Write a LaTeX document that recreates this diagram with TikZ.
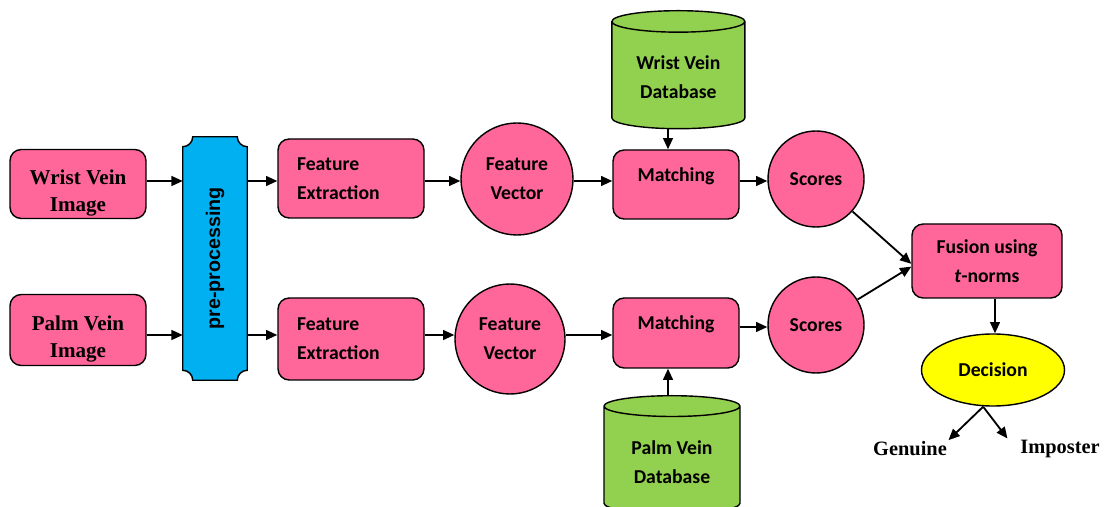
\documentclass[tikz,border=0pt]{standalone}
\usepackage{fontspec}
\setmainfont{Liberation Serif}
\newfontfamily\calibri{Carlito}
\newfontfamily\arial{Liberation Sans}
\definecolor{boxpink}{RGB}{255,102,153}
\definecolor{preblue}{RGB}{0,176,240}
\definecolor{dbgreen}{RGB}{146,208,80}
\definecolor{decyellow}{RGB}{255,255,0}
\usetikzlibrary{shapes.geometric, arrows.meta, positioning, calc, backgrounds}

\begin{document}
\begin{tikzpicture}[
    box/.style={draw, line width=1pt, rounded corners=8pt, fill=boxpink, align=center,
        font=\calibri\bfseries\fontsize{14}{20.5}\selectfont},
    imgbox/.style={box, font=\bfseries\fontsize{15}{19.5}\selectfont, text height=1.5cm, inner ysep=1pt},
    disk/.style={circle, draw, line width=1pt, fill=boxpink, align=center, inner sep=0pt,
        font=\calibri\bfseries\fontsize{14}{20.5}\selectfont},
    db/.style={cylinder, shape border rotate=90, aspect=0.23, draw, line width=1pt,
        fill=dbgreen, align=center, anchor=north, font=\calibri\bfseries\fontsize{14}{20.5}\selectfont},
    outcome/.style={font=\bfseries\fontsize{14.5}{16}\selectfont, inner sep=1pt},
    arr/.style={-{Triangle[length=8pt,width=7pt]}, line width=1.3pt}
]
    \useasboundingbox (0,0) rectangle (27.6,12.675);

    % inputs
    \node[imgbox, minimum width=3.4cm, minimum height=1.725cm] (wimg) at (1.95,8.075) {Wrist Vein\\Image};
    \node[imgbox, minimum width=3.4cm, minimum height=1.775cm] (pimg) at (1.95,4.425) {Palm Vein\\Image};

    % pre-processing plaque
    \node[minimum width=1.6cm, minimum height=6.075cm, inner sep=0pt] (pre) at (5.375,6.2125) {};
    \node[rotate=90, font=\arial\bfseries\fontsize{14}{16}\selectfont] (pretxt) at (pre) {pre-processing};
    \begin{scope}[on background layer]
        \def\r{0.25}
        \draw[line width=1pt, fill=preblue]
            ($(pre.north west)+(\r,0)$) -- ($(pre.north east)+(-\r,0)$)
            arc[start angle=180, end angle=270, radius=\r] -- ($(pre.south east)+(0,\r)$)
            arc[start angle=90, end angle=180, radius=\r] -- ($(pre.south west)+(\r,0)$)
            arc[start angle=0, end angle=90, radius=\r] -- ($(pre.north west)+(0,-\r)$)
            arc[start angle=270, end angle=360, radius=\r] -- cycle;
    \end{scope}

    % wrist branch
    \node[box, minimum width=3.65cm, minimum height=1.975cm, align=left, text width=2.7cm] (fe1) at (8.775,8.2125) {Feature\\Extraction};
    \node[disk, minimum size=2.8cm] (fv1) at (12.925,8.2) {Feature\\Vector};
    \node[box, minimum width=3.15cm, minimum height=1.725cm, text depth=0.5cm] (m1) at (16.9,8.0625) {Matching};
    \node[db, minimum width=3.325cm, minimum height=2.95cm] (wdb) at (16.96,12.425) {Wrist Vein\\Database};
    \node[disk, minimum size=2.4cm] (s1) at (20.4,8.2) {Scores};

    % palm branch
    \node[box, minimum width=3.65cm, minimum height=2.05cm, align=left, text width=2.7cm] (fe2) at (8.775,4.2) {Feature\\Extraction};
    \node[disk, minimum size=2.75cm] (fv2) at (12.75,4.2) {Feature\\Vector};
    \node[box, minimum width=3.15cm, minimum height=1.75cm, text depth=0.5cm] (m2) at (16.9,4.35) {Matching};
    \node[db, minimum width=3.4cm, minimum height=2.95cm] (pdb) at (16.8,2.8) {Palm Vein\\Database};
    \node[disk, minimum size=2.4cm] (s2) at (20.4,4.55) {Scores};

    % fusion and decision
    \node[box, minimum width=3.75cm, minimum height=1.85cm] (fus) at (24.675,6.15) {Fusion using\\\textit{t}-norms};
    \node[ellipse, draw, line width=1pt, fill=decyellow, minimum width=3.575cm, minimum height=1.8cm,
        font=\calibri\bfseries\fontsize{14}{16}\selectfont] (dec) at (24.825,3.425) {Decision};
    \node[outcome] (gen) at (22.75,1.45) {Genuine};
    \node[outcome] (imp) at (26.5,1.45) {Imposter};

    % connectors
    \draw[arr] (wimg.east |- 0,8.15) -- (pre.west |- 0,8.15);
    \draw[arr] (pimg.east |- 0,4.3) -- (pre.west |- 0,4.3);
    \draw[arr] (pre.east |- 0,8.15) -- (fe1.west |- 0,8.15);
    \draw[arr] (pre.east |- 0,4.3) -- (fe2.west |- 0,4.3);
    \draw[arr] (fe1.east |- 0,8.15) -- (fv1.west |- 0,8.15);
    \draw[arr] (fe2.east |- 0,4.3) -- (fv2.west |- 0,4.3);
    \draw[arr] (fv1.east |- 0,8.15) -- (m1.west |- 0,8.15);
    \draw[arr] (fv2.east |- 0,4.3) -- (m2.west |- 0,4.3);
    \draw[arr] (m1.east |- 0,8.15) -- (s1.west |- 0,8.15);
    \draw[arr] (m2.east |- 0,4.5) -- (s2.west |- 0,4.5);
    \draw[arr] (wdb.bottom -| 16.7,0) -- (m1.north -| 16.7,0);
    \draw[arr] (pdb.top -| 16.7,0) -- (m2.south -| 16.7,0);
    \draw[arr] (s1) -- ([yshift=-2pt]fus.west);
    \draw[arr] (s2) -- ([yshift=-4pt]fus.west);
    \draw[arr] (fus.south -| 24.875,0) -- (dec.north -| 24.875,0);
    \draw[arr] ([xshift=-7pt]dec.south) -- (gen.north east);
    \draw[arr] ([xshift=-7pt]dec.south) -- ([xshift=-8pt]imp.north west);
\end{tikzpicture}
\end{document}
